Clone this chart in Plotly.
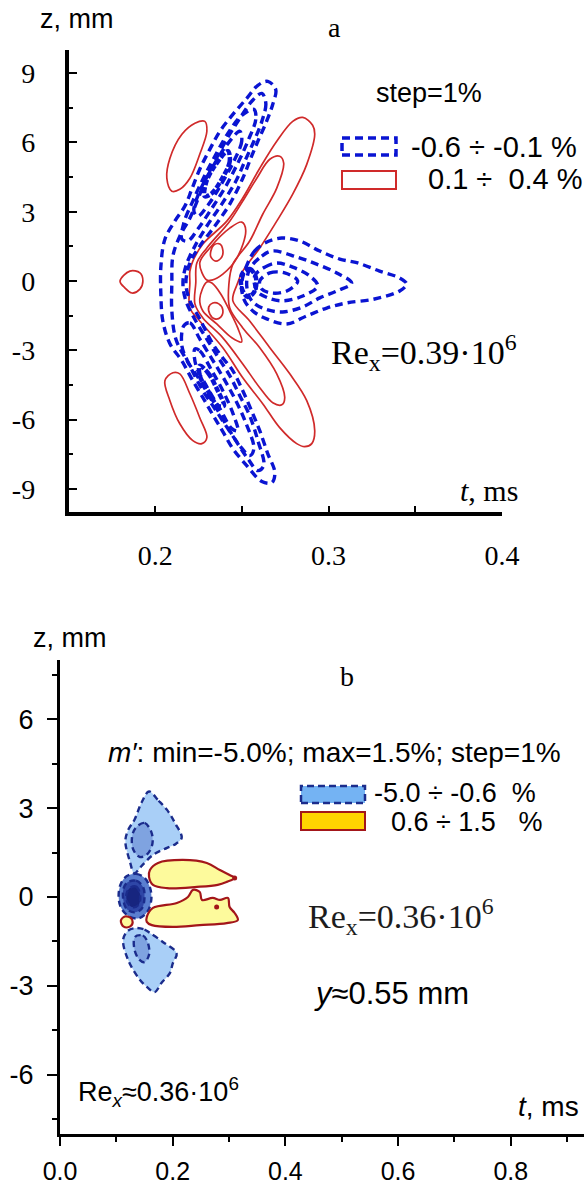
import plotly.graph_objects as go

W, H = 587, 1186

# ---------------- Panel a data (t in ms, z in mm) ----------------
# positive levels (solid red), 0.1 ... 0.4 %
red_chevron_1 = [(0.2200, -0.09), (0.2200, 0.43), (0.2217, 0.86), (0.2275, 1.60), (0.2413, 2.59), (0.2505, 3.59),
                 (0.2603, 4.88), (0.2701, 6.05), (0.2793, 6.91), (0.2851, 7.08), (0.2908, 6.74), (0.2920, 6.35),
                 (0.2874, 5.05), (0.2793, 3.76), (0.2701, 2.59), (0.2603, 1.43), (0.2505, 0.43), (0.2471, -0.17),
                 (0.2448, -0.86), (0.2545, -1.73), (0.2661, -2.89), (0.2776, -4.02), (0.2874, -5.18), (0.2920, -6.48),
                 (0.2903, -7.04), (0.2862, -7.17), (0.2816, -7.04), (0.2718, -6.35), (0.2620, -5.31), (0.2505, -4.19),
                 (0.2390, -2.89), (0.2257, -1.73), (0.2200, -1.17)]
red_chevron_2 = [(0.2234, -0.09), (0.2240, 0.78), (0.2298, 1.43), (0.2430, 2.59), (0.2505, 3.46), (0.2586, 4.45),
                 (0.2661, 5.27), (0.2718, 5.40), (0.2741, 5.10), (0.2701, 4.02), (0.2620, 2.89), (0.2545, 1.73),
                 (0.2448, 0.73), (0.2425, -0.13), (0.2430, -1.17), (0.2505, -2.03), (0.2603, -2.89), (0.2701, -4.02),
                 (0.2747, -5.05), (0.2730, -5.36), (0.2678, -5.27), (0.2603, -4.62), (0.2505, -3.59), (0.2390, -2.46),
                 (0.2275, -1.60), (0.2229, -0.99)]
red_upper_3 = [(0.2298, 0.04), (0.2257, 0.78), (0.2315, 1.43), (0.2430, 2.29), (0.2499, 2.55), (0.2522, 2.20),
               (0.2471, 0.99), (0.2390, 0.30), (0.2327, 0.04)]
red_lower_3 = [(0.2298, -0.04), (0.2257, -0.78), (0.2275, -1.30), (0.2355, -1.86), (0.2442, -2.46), (0.2499, -2.64),
               (0.2476, -2.03), (0.2430, -1.30), (0.2378, -0.56), (0.2327, -0.09)]
red_upper_4 = [(0.2321, 1.30), (0.2338, 1.56), (0.2373, 1.60), (0.2390, 1.34), (0.2384, 1.04), (0.2350, 0.86),
               (0.2321, 1.04)]
red_lower_4 = [(0.2309, -1.12), (0.2332, -0.95), (0.2367, -0.99), (0.2390, -1.25), (0.2378, -1.56), (0.2344, -1.64),
               (0.2315, -1.43)]
red_upper_left = [(0.2286, 6.91), (0.2298, 6.48), (0.2257, 5.49), (0.2200, 4.45), (0.2142, 3.97), (0.2096, 3.89),
                  (0.2067, 4.45), (0.2085, 5.31), (0.2154, 6.35), (0.2229, 6.83)]
red_lower_left = [(0.2102, -3.97), (0.2142, -4.02), (0.2200, -4.88), (0.2257, -5.92), (0.2298, -6.78), (0.2269, -7.04),
                  (0.2217, -6.91), (0.2142, -6.18), (0.2085, -5.18), (0.2056, -4.32)]
red_small = [(0.1797, 0.0), (0.1854, 0.43), (0.1912, 0.35), (0.1929, 0.0), (0.1912, -0.35), (0.1866, -0.52),
             (0.1825, -0.30)]

# negative levels (dashed blue), -0.1 ... -0.6 %
blue_crescent_1 = [(0.2649, 8.64), (0.2695, 8.29), (0.2678, 7.65), (0.2638, 6.83), (0.2592, 6.05), (0.2551, 5.31),
                   (0.2505, 4.45), (0.2430, 3.33), (0.2344, 2.38), (0.2257, 1.51), (0.2200, 0.78), (0.2177, -0.09),
                   (0.2200, -0.86), (0.2257, -1.64), (0.2332, -2.72), (0.2390, -3.33), (0.2448, -3.89), (0.2505, -4.75),
                   (0.2563, -5.75), (0.2603, -6.48), (0.2649, -7.47), (0.2690, -8.29), (0.2672, -8.73), (0.2615, -8.68),
                   (0.2528, -7.99), (0.2448, -7.26), (0.2390, -6.52), (0.2332, -5.79), (0.2275, -5.05), (0.2217, -4.32),
                   (0.2154, -3.46), (0.2085, -2.72), (0.2044, -1.73), (0.2033, -0.65), (0.2033, 0.65), (0.2056, 1.81),
                   (0.2113, 2.59), (0.2171, 3.24), (0.2211, 3.97), (0.2257, 4.84), (0.2315, 5.70), (0.2373, 6.48),
                   (0.2448, 7.21), (0.2528, 7.91), (0.2592, 8.47)]
blue_crescent_2 = [(0.2615, 8.12), (0.2638, 7.69), (0.2615, 6.91), (0.2569, 6.05), (0.2522, 5.27), (0.2465, 4.32),
                   (0.2384, 3.33), (0.2298, 2.38), (0.2229, 1.51), (0.2177, 0.65), (0.2160, -0.09), (0.2177, -0.86),
                   (0.2234, -1.73), (0.2304, -2.59), (0.2361, -3.28), (0.2430, -4.10), (0.2488, -4.97), (0.2545, -5.83),
                   (0.2592, -6.91), (0.2626, -7.99), (0.2592, -8.21), (0.2534, -7.69), (0.2465, -6.91), (0.2396, -6.05),
                   (0.2327, -5.18), (0.2252, -4.23), (0.2177, -3.37), (0.2119, -2.51), (0.2096, -1.30), (0.2096, -0.09),
                   (0.2102, 1.08), (0.2142, 1.94), (0.2200, 2.72), (0.2246, 3.54), (0.2292, 4.41), (0.2350, 5.27),
                   (0.2419, 6.22), (0.2488, 7.04), (0.2557, 7.78)]
blue_upper_3 = [(0.2569, 7.43), (0.2580, 7.00), (0.2534, 6.05), (0.2476, 5.10), (0.2407, 4.10), (0.2327, 3.15),
                (0.2246, 2.25), (0.2188, 1.73), (0.2154, 1.81), (0.2165, 2.51), (0.2217, 3.46), (0.2275, 4.41),
                (0.2344, 5.40), (0.2419, 6.39), (0.2499, 7.17)]
blue_lower_3 = [(0.2165, -1.94), (0.2200, -1.81), (0.2257, -2.51), (0.2327, -3.37), (0.2396, -4.23), (0.2465, -5.18),
                (0.2522, -6.13), (0.2569, -7.26), (0.2545, -7.56), (0.2488, -7.13), (0.2419, -6.39), (0.2344, -5.53),
                (0.2269, -4.67), (0.2200, -3.67), (0.2154, -2.81)]
blue_upper_4 = [(0.2488, 6.48), (0.2499, 6.05), (0.2453, 5.18), (0.2384, 4.23), (0.2304, 3.28), (0.2246, 2.81),
                (0.2223, 3.02), (0.2257, 3.89), (0.2327, 4.88), (0.2407, 5.83)]
blue_lower_4 = [(0.2229, -2.94), (0.2257, -3.02), (0.2327, -3.89), (0.2396, -4.84), (0.2453, -5.83), (0.2476, -6.48),
                (0.2442, -6.39), (0.2373, -5.53), (0.2298, -4.58), (0.2234, -3.63)]
blue_upper_5 = [(0.2419, 5.62), (0.2430, 5.18), (0.2384, 4.41), (0.2327, 3.80), (0.2286, 3.67), (0.2292, 4.23),
                (0.2338, 4.92)]
blue_lower_5 = [(0.2257, -3.67), (0.2304, -3.97), (0.2361, -4.75), (0.2396, -5.40), (0.2361, -5.40), (0.2304, -4.75),
                (0.2257, -4.10)]
blue_fan_1 = [(0.2534, 0.78), (0.2574, 1.30), (0.2632, 1.64), (0.2730, 1.86), (0.2834, 1.73), (0.2949, 1.30),
              (0.3064, 0.95), (0.3168, 0.78), (0.3294, 0.43), (0.3410, 0.13), (0.3450, -0.13), (0.3410, -0.43),
              (0.3265, -0.78), (0.3104, -0.95), (0.2989, -1.17), (0.2874, -1.51), (0.2759, -1.86), (0.2643, -1.64),
              (0.2563, -1.30), (0.2511, -0.78), (0.2499, -0.09)]
blue_fan_2 = [(0.2545, 0.52), (0.2615, 1.08), (0.2678, 1.30), (0.2816, 1.04), (0.2931, 0.73), (0.3047, 0.35),
              (0.3133, -0.09), (0.3047, -0.43), (0.2949, -0.73), (0.2851, -1.12), (0.2735, -1.34), (0.2632, -1.21),
              (0.2557, -0.86), (0.2528, -0.22)]
blue_fan_3 = [(0.2574, 0.22), (0.2632, 0.60), (0.2701, 0.78), (0.2793, 0.60), (0.2891, 0.22), (0.2937, -0.22),
              (0.2851, -0.65), (0.2735, -0.86), (0.2649, -0.73), (0.2586, -0.43)]
blue_fan_4 = [(0.2603, 0.0), (0.2661, 0.35), (0.2747, 0.35), (0.2822, 0.0), (0.2759, -0.43), (0.2672, -0.52),
              (0.2615, -0.35)]
blue_fan_5 = [(0.2505, 0.35), (0.2545, 0.52), (0.2580, 0.17), (0.2574, -0.43), (0.2534, -0.69), (0.2505, -0.43),
              (0.2494, 0.0)]

# ---------------- Panel b data ----------------
b_blue_upper_1 = [(0.158, 3.56), (0.175, 3.25), (0.190, 2.94), (0.204, 2.50), (0.216, 2.00), (0.206, 1.80),
                  (0.190, 1.66), (0.165, 1.42), (0.145, 1.05), (0.132, 0.80), (0.124, 1.20), (0.116, 1.90),
                  (0.122, 2.30), (0.132, 2.60), (0.145, 3.20)]
b_blue_upper_2 = [(0.135, 2.35), (0.150, 2.50), (0.162, 2.20), (0.164, 1.80), (0.155, 1.45), (0.142, 1.35),
                  (0.130, 1.60), (0.128, 2.05)]
b_blue_center_1 = [(0.118, 0.70), (0.135, 0.78), (0.150, 0.65), (0.160, 0.30), (0.162, -0.10), (0.155, -0.50),
                   (0.140, -0.72), (0.122, -0.65), (0.108, -0.35), (0.104, 0.05), (0.108, 0.45)]
b_blue_center_2 = [(0.120, 0.50), (0.135, 0.55), (0.147, 0.35), (0.150, 0.00), (0.145, -0.40), (0.132, -0.52),
                   (0.118, -0.40), (0.112, -0.05), (0.113, 0.30)]
b_blue_center_3 = [(0.124, 0.30), (0.135, 0.35), (0.142, 0.10), (0.140, -0.25), (0.130, -0.35), (0.120, -0.20),
                   (0.118, 0.10)]
b_blue_lower_1 = [(0.133, -1.05), (0.150, -1.10), (0.160, -1.22), (0.185, -1.55), (0.207, -1.89), (0.200, -2.25),
                  (0.195, -2.57), (0.180, -2.90), (0.168, -3.21), (0.155, -3.05), (0.140, -2.75), (0.121, -2.13),
                  (0.112, -1.45), (0.120, -1.15)]
b_blue_lower_2 = [(0.133, -1.35), (0.147, -1.30), (0.156, -1.55), (0.158, -1.95), (0.150, -2.20), (0.140, -2.10),
                  (0.132, -1.75)]
b_yellow_upper = [(0.1596, 0.91), (0.174, 1.15), (0.218, 1.25), (0.2606, 1.15), (0.2837, 0.91), (0.301, 0.74),
                  (0.310, 0.64), (0.296, 0.51), (0.280, 0.41), (0.243, 0.34), (0.190, 0.30), (0.165, 0.41),
                  (0.158, 0.68)]
b_yellow_lower = [(0.154, -0.68), (0.165, -0.37), (0.2074, -0.20), (0.227, 0.0), (0.236, 0.24), (0.248, 0.17),
                  (0.252, -0.10), (0.271, -0.03), (0.284, -0.10), (0.298, -0.03), (0.301, -0.34), (0.310, -0.54),
                  (0.3156, -0.78), (0.296, -0.88), (0.248, -0.95), (0.200, -1.01), (0.163, -0.95), (0.154, -0.84)]
b_yellow_small = [(0.108, -0.80), (0.115, -0.66), (0.125, -0.70), (0.129, -0.85), (0.124, -1.00), (0.113, -1.00)]
b_red_dots_t = [0.310, 0.278]
b_red_dots_z = [0.64, -0.34]

# tick labels
a_x_ticks = [0.2, 0.3, 0.4]
a_x_minor = [0.25, 0.35]
a_y_ticks = [-9, -6, -3, 0, 3, 6, 9]
a_y_minor = [-7.5, -4.5, -1.5, 1.5, 4.5, 7.5]
b_x_ticks = [0.0, 0.2, 0.4, 0.6, 0.8]
b_x_minor = [0.1, 0.3, 0.5, 0.7, 0.9]
b_y_ticks = [-6, -3, 0, 3, 6]
b_y_minor = [-7.5, -4.5, -1.5, 1.5, 4.5, 7.5]

RED = "#d02a2a"
BLUE = "#0a14d2"
NAVY = "#1b2c8c"
DRED = "#a3161a"

fig = go.Figure()


def closed(pts):
    xs = [p[0] for p in pts] + [pts[0][0]]
    ys = [p[1] for p in pts] + [pts[0][1]]
    return xs, ys


def add_line(pts, color, width, dash="solid", xa="x", ya="y", fill=None, smooth=1.0):
    xs, ys = closed(pts)
    fig.add_trace(go.Scatter(
        x=xs, y=ys, mode="lines", xaxis=xa, yaxis=ya,
        line=dict(color=color, width=width, dash=dash, shape="spline", smoothing=smooth),
        fill="toself" if fill else None, fillcolor=fill,
        hoverinfo="skip", showlegend=False))


# panel a
for c in [red_chevron_1, red_chevron_2, red_upper_3, red_lower_3, red_upper_4, red_lower_4,
          red_upper_left, red_lower_left, red_small]:
    add_line(c, RED, 1.7)
for c in [blue_crescent_1, blue_crescent_2, blue_upper_3, blue_lower_3, blue_upper_4, blue_lower_4,
          blue_fan_1, blue_fan_2, blue_fan_3, blue_fan_4]:
    add_line(c, BLUE, 3.4, dash="8px,5px")
for c in [blue_upper_5, blue_lower_5, blue_fan_5]:
    add_line(c, BLUE, 4.5, dash="6px,2px")

# panel b
add_line(b_blue_upper_1, NAVY, 2.4, "6px,4px", "x2", "y2", fill="#a9cff7")
add_line(b_blue_upper_2, NAVY, 2.4, "6px,4px", "x2", "y2", fill="#7fa3e0")
add_line(b_blue_lower_1, NAVY, 2.4, "6px,4px", "x2", "y2", fill="#a9cff7")
add_line(b_blue_lower_2, NAVY, 2.4, "6px,4px", "x2", "y2", fill="#7fa3e0")
add_line(b_blue_center_1, NAVY, 2.4, "6px,4px", "x2", "y2", fill="#5a7fd0")
add_line(b_blue_center_2, NAVY, 2.4, "6px,4px", "x2", "y2", fill="#2e46a6")
add_line(b_blue_center_3, NAVY, 2.4, "6px,4px", "x2", "y2", fill="#17257f")
add_line(b_yellow_upper, DRED, 2.2, "solid", "x2", "y2", fill="#fdfa9c")
add_line(b_yellow_lower, DRED, 2.2, "solid", "x2", "y2", fill="#fdfa9c")
add_line(b_yellow_small, DRED, 2.2, "solid", "x2", "y2", fill="#fdfa9c")
fig.add_trace(go.Scatter(x=b_red_dots_t, y=b_red_dots_z, mode="markers", xaxis="x2", yaxis="y2",
                         marker=dict(color=DRED, size=5), hoverinfo="skip", showlegend=False))

SERIF = "Liberation Serif"
SANS = "Liberation Sans"


def px_x(v):
    return v / W


def px_y(v):
    return 1 - v / H


axis_common = dict(showgrid=False, zeroline=False, showline=True, linecolor="black",
                   tickcolor="black", fixedrange=True, automargin=False)

fig.update_layout(
    width=W, height=H, margin=dict(l=0, r=0, t=0, b=0),
    paper_bgcolor="white", plot_bgcolor="white", showlegend=False,
    xaxis=dict(domain=[px_x(68.5), px_x(502)], range=[0.15, 0.40], anchor="y",
               tickmode="array", tickvals=a_x_ticks, ticktext=["%.1f" % v for v in a_x_ticks],
               ticks="inside", ticklen=6, tickwidth=2, linewidth=3.5,
               tickfont=dict(family=SERIF, size=28, color="black"), ticklabelstandoff=16,
               minor=dict(tickmode="array", tickvals=a_x_minor, ticks="inside", ticklen=6, tickwidth=2,
                          tickcolor="black"),
               **axis_common),
    yaxis=dict(domain=[px_y(512), px_y(50)], range=[-10, 10], anchor="x",
               tickmode="array", tickvals=a_y_ticks, ticktext=[str(v) for v in a_y_ticks],
               ticks="inside", ticklen=9, tickwidth=2, linewidth=3.5,
               tickfont=dict(family=SERIF, size=28, color="black"), ticklabelstandoff=24,
               minor=dict(tickmode="array", tickvals=a_y_minor, ticks="inside", ticklen=5, tickwidth=2,
                          tickcolor="black"),
               **axis_common),
    xaxis2=dict(domain=[px_x(60), px_x(584)], range=[0, 0.93], anchor="y2",
                tickmode="array", tickvals=b_x_ticks, ticktext=["%.1f" % v for v in b_x_ticks],
                ticks="outside", ticklen=9, tickwidth=2, linewidth=3,
                tickfont=dict(family=SANS, size=25, color="black"), ticklabelstandoff=4,
                minor=dict(tickmode="array", tickvals=b_x_minor, ticks="outside", ticklen=5, tickwidth=2,
                           tickcolor="black"),
                **axis_common),
    yaxis2=dict(domain=[px_y(1134), px_y(660)], range=[-8, 8], anchor="x2",
                tickmode="array", tickvals=b_y_ticks, ticktext=[str(v) for v in b_y_ticks],
                ticks="outside", ticklen=10, tickwidth=2, linewidth=3,
                tickfont=dict(family=SANS, size=27, color="black"), ticklabelstandoff=8,
                minor=dict(tickmode="array", tickvals=b_y_minor, ticks="outside", ticklen=5, tickwidth=2,
                           tickcolor="black"),
                **axis_common),
)

annotations = []


def ann(text, x, y, size, family, xanchor="left", yanchor="middle", color="black"):
    annotations.append(dict(text=text, x=px_x(x), y=px_y(y), xref="paper", yref="paper",
                            xanchor=xanchor, yanchor=yanchor, showarrow=False,
                            font=dict(family=family, size=size, color=color)))


NB = "\u00a0"
# panel a texts
ann("z, mm", 38, 19, 27, SANS)
ann("a", 334, 27, 28, SERIF, xanchor="center")
ann("step=1%", 374, 93, 27, SANS)
ann("-0.6" + NB + "÷" + NB + "-0.1" + NB + "%", 409, 147, 29, SANS)
ann("0.1" + NB + "÷" + NB + NB + "0.4" + NB + "%", 426, 179, 29, SANS)
ann("Re<sub>x</sub>=0.39·10<sup>6</sup>", 329, 352, 34, SERIF)
ann("<i>t</i>, ms", 458, 490, 30, SERIF)
# panel b texts
ann("z, mm", 31, 638, 27, SANS)
ann("b", 347, 676, 28, SERIF, xanchor="center")
ann("<i>m′</i>: min=-5.0%; max=1.5%; step=1%", 106, 752, 28, SANS)
ann("-5.0" + NB + "÷" + NB + "-0.6" + NB + NB + "%", 372, 793, 27, SANS)
ann("0.6" + NB + "÷" + NB + "1.5" + NB + NB + NB + "%", 389, 822, 27, SANS)
ann("Re<sub>x</sub>=0.36·10<sup>6</sup>", 306, 916, 34, SERIF, color="#1c1c1c")
ann("<i>y</i>≈0.55 mm", 312, 993, 31, SANS)
ann("Re<sub><i>x</i></sub>≈0.36·10<sup>6</sup>", 76, 1092, 27, SANS)
ann("<i>t</i>, ms", 516, 1106, 28, SANS)
fig.update_layout(annotations=annotations)

# legend boxes (decorations in paper coordinates)
shapes = [
    dict(type="rect", xref="paper", yref="paper", x0=px_x(342), x1=px_x(396), y0=px_y(155), y1=px_y(138),
         line=dict(color=BLUE, width=3.5, dash="8px,5px")),
    dict(type="rect", xref="paper", yref="paper", x0=px_x(342), x1=px_x(396), y0=px_y(189), y1=px_y(171),
         line=dict(color=RED, width=2)),
    dict(type="rect", xref="paper", yref="paper", x0=px_x(301), x1=px_x(365), y0=px_y(803), y1=px_y(786),
         line=dict(color=NAVY, width=2.5, dash="7px,4px"), fillcolor="#74b3f3"),
    dict(type="rect", xref="paper", yref="paper", x0=px_x(301), x1=px_x(365), y0=px_y(830), y1=px_y(812),
         line=dict(color=DRED, width=2), fillcolor="#ffd400"),
]
fig.update_layout(shapes=shapes)

fig.write_html("out.html", config={"displayModeBar": False})
